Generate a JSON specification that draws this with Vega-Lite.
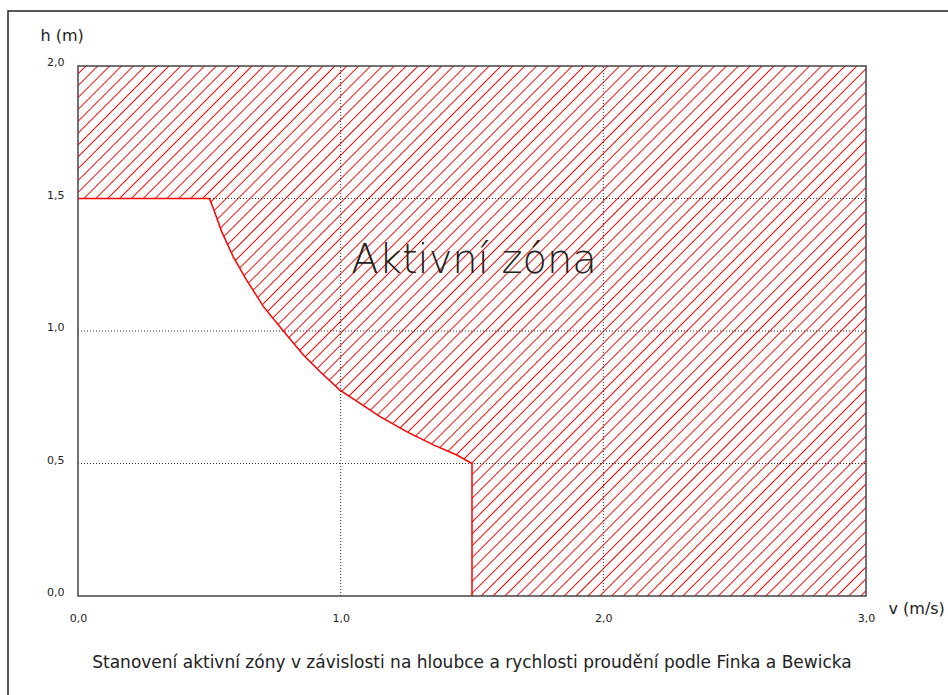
{
  "$schema": "https://vega.github.io/schema/vega-lite/v6.json",
  "width": 944,
  "height": 689,
  "autosize": "none",
  "padding": {"left": 8, "top": 11, "right": 0, "bottom": 0},
  "background": "#ffffff",
  "config": {
    "view": {"stroke": "#222222", "strokeWidth": 1.5},
    "font": "DejaVu Sans"
  },
  "title": {
    "text": "Stanovení aktivní zóny v závislosti na hloubce a rychlosti proudění podle Finka a Bewicka",
    "orient": "bottom", "anchor": "middle", "frame": "group",
    "offset": -45, "dx": -8,
    "font": "DejaVu Sans", "fontSize": 17, "fontWeight": "normal", "color": "#222222"
  },
  "datasets": {
    "boundary": [
      {"i": 0, "v": 0.0, "h": 1.5},
      {"i": 1, "v": 0.5, "h": 1.5},
      {"i": 2, "v": 0.515, "h": 1.463},
      {"i": 3, "v": 0.547, "h": 1.375},
      {"i": 4, "v": 0.591, "h": 1.28},
      {"i": 5, "v": 0.642, "h": 1.192},
      {"i": 6, "v": 0.706, "h": 1.092},
      {"i": 7, "v": 0.782, "h": 1.0},
      {"i": 8, "v": 0.858, "h": 0.909},
      {"i": 9, "v": 0.921, "h": 0.847},
      {"i": 10, "v": 0.997, "h": 0.777},
      {"i": 11, "v": 1.074, "h": 0.727},
      {"i": 12, "v": 1.15, "h": 0.677},
      {"i": 13, "v": 1.251, "h": 0.62},
      {"i": 14, "v": 1.353, "h": 0.57},
      {"i": 15, "v": 1.442, "h": 0.532},
      {"i": 16, "v": 1.5, "h": 0.5},
      {"i": 17, "v": 1.5, "h": 0.0},
      {"i": 18, "v": 3.0, "h": 0.0}
    ]
  },
  "layer": [
    {
      "data": {"name": "boundary"},
      "mark": {
        "type": "area",
        "color": {
          "gradient": "linear", "x1": 0, "y1": 0, "x2": 1.1516, "y2": 0.7746,
          "stops": [
{"offset":0.005,"color":"#ffffff"},{"offset":0.006,"color":"#ff0000"},{"offset":0.007,"color":"#ffffff"},
{"offset":0.014,"color":"#ffffff"},{"offset":0.015,"color":"#ff0000"},{"offset":0.016,"color":"#ffffff"},
{"offset":0.023,"color":"#ffffff"},{"offset":0.024,"color":"#ff0000"},{"offset":0.025,"color":"#ffffff"},
{"offset":0.032,"color":"#ffffff"},{"offset":0.033,"color":"#ff0000"},{"offset":0.034,"color":"#ffffff"},
{"offset":0.041,"color":"#ffffff"},{"offset":0.042,"color":"#ff0000"},{"offset":0.043,"color":"#ffffff"},
{"offset":0.050,"color":"#ffffff"},{"offset":0.051,"color":"#ff0000"},{"offset":0.052,"color":"#ffffff"},
{"offset":0.059,"color":"#ffffff"},{"offset":0.060,"color":"#ff0000"},{"offset":0.061,"color":"#ffffff"},
{"offset":0.068,"color":"#ffffff"},{"offset":0.069,"color":"#ff0000"},{"offset":0.070,"color":"#ffffff"},
{"offset":0.077,"color":"#ffffff"},{"offset":0.078,"color":"#ff0000"},{"offset":0.079,"color":"#ffffff"},
{"offset":0.086,"color":"#ffffff"},{"offset":0.087,"color":"#ff0000"},{"offset":0.088,"color":"#ffffff"},
{"offset":0.095,"color":"#ffffff"},{"offset":0.096,"color":"#ff0000"},{"offset":0.097,"color":"#ffffff"},
{"offset":0.104,"color":"#ffffff"},{"offset":0.105,"color":"#ff0000"},{"offset":0.106,"color":"#ffffff"},
{"offset":0.113,"color":"#ffffff"},{"offset":0.114,"color":"#ff0000"},{"offset":0.115,"color":"#ffffff"},
{"offset":0.122,"color":"#ffffff"},{"offset":0.123,"color":"#ff0000"},{"offset":0.124,"color":"#ffffff"},
{"offset":0.131,"color":"#ffffff"},{"offset":0.132,"color":"#ff0000"},{"offset":0.133,"color":"#ffffff"},
{"offset":0.140,"color":"#ffffff"},{"offset":0.141,"color":"#ff0000"},{"offset":0.142,"color":"#ffffff"},
{"offset":0.149,"color":"#ffffff"},{"offset":0.150,"color":"#ff0000"},{"offset":0.151,"color":"#ffffff"},
{"offset":0.158,"color":"#ffffff"},{"offset":0.159,"color":"#ff0000"},{"offset":0.160,"color":"#ffffff"},
{"offset":0.167,"color":"#ffffff"},{"offset":0.168,"color":"#ff0000"},{"offset":0.169,"color":"#ffffff"},
{"offset":0.176,"color":"#ffffff"},{"offset":0.177,"color":"#ff0000"},{"offset":0.178,"color":"#ffffff"},
{"offset":0.185,"color":"#ffffff"},{"offset":0.186,"color":"#ff0000"},{"offset":0.187,"color":"#ffffff"},
{"offset":0.194,"color":"#ffffff"},{"offset":0.195,"color":"#ff0000"},{"offset":0.196,"color":"#ffffff"},
{"offset":0.203,"color":"#ffffff"},{"offset":0.204,"color":"#ff0000"},{"offset":0.205,"color":"#ffffff"},
{"offset":0.212,"color":"#ffffff"},{"offset":0.213,"color":"#ff0000"},{"offset":0.214,"color":"#ffffff"},
{"offset":0.221,"color":"#ffffff"},{"offset":0.222,"color":"#ff0000"},{"offset":0.223,"color":"#ffffff"},
{"offset":0.230,"color":"#ffffff"},{"offset":0.231,"color":"#ff0000"},{"offset":0.232,"color":"#ffffff"},
{"offset":0.239,"color":"#ffffff"},{"offset":0.240,"color":"#ff0000"},{"offset":0.241,"color":"#ffffff"},
{"offset":0.248,"color":"#ffffff"},{"offset":0.249,"color":"#ff0000"},{"offset":0.250,"color":"#ffffff"},
{"offset":0.257,"color":"#ffffff"},{"offset":0.258,"color":"#ff0000"},{"offset":0.259,"color":"#ffffff"},
{"offset":0.266,"color":"#ffffff"},{"offset":0.267,"color":"#ff0000"},{"offset":0.268,"color":"#ffffff"},
{"offset":0.275,"color":"#ffffff"},{"offset":0.276,"color":"#ff0000"},{"offset":0.277,"color":"#ffffff"},
{"offset":0.284,"color":"#ffffff"},{"offset":0.285,"color":"#ff0000"},{"offset":0.286,"color":"#ffffff"},
{"offset":0.293,"color":"#ffffff"},{"offset":0.294,"color":"#ff0000"},{"offset":0.295,"color":"#ffffff"},
{"offset":0.302,"color":"#ffffff"},{"offset":0.303,"color":"#ff0000"},{"offset":0.304,"color":"#ffffff"},
{"offset":0.311,"color":"#ffffff"},{"offset":0.312,"color":"#ff0000"},{"offset":0.313,"color":"#ffffff"},
{"offset":0.320,"color":"#ffffff"},{"offset":0.321,"color":"#ff0000"},{"offset":0.322,"color":"#ffffff"},
{"offset":0.329,"color":"#ffffff"},{"offset":0.330,"color":"#ff0000"},{"offset":0.331,"color":"#ffffff"},
{"offset":0.338,"color":"#ffffff"},{"offset":0.339,"color":"#ff0000"},{"offset":0.340,"color":"#ffffff"},
{"offset":0.347,"color":"#ffffff"},{"offset":0.348,"color":"#ff0000"},{"offset":0.349,"color":"#ffffff"},
{"offset":0.356,"color":"#ffffff"},{"offset":0.357,"color":"#ff0000"},{"offset":0.358,"color":"#ffffff"},
{"offset":0.365,"color":"#ffffff"},{"offset":0.366,"color":"#ff0000"},{"offset":0.367,"color":"#ffffff"},
{"offset":0.374,"color":"#ffffff"},{"offset":0.375,"color":"#ff0000"},{"offset":0.376,"color":"#ffffff"},
{"offset":0.383,"color":"#ffffff"},{"offset":0.384,"color":"#ff0000"},{"offset":0.385,"color":"#ffffff"},
{"offset":0.392,"color":"#ffffff"},{"offset":0.393,"color":"#ff0000"},{"offset":0.394,"color":"#ffffff"},
{"offset":0.401,"color":"#ffffff"},{"offset":0.402,"color":"#ff0000"},{"offset":0.403,"color":"#ffffff"},
{"offset":0.410,"color":"#ffffff"},{"offset":0.411,"color":"#ff0000"},{"offset":0.412,"color":"#ffffff"},
{"offset":0.419,"color":"#ffffff"},{"offset":0.420,"color":"#ff0000"},{"offset":0.421,"color":"#ffffff"},
{"offset":0.428,"color":"#ffffff"},{"offset":0.429,"color":"#ff0000"},{"offset":0.430,"color":"#ffffff"},
{"offset":0.437,"color":"#ffffff"},{"offset":0.438,"color":"#ff0000"},{"offset":0.439,"color":"#ffffff"},
{"offset":0.446,"color":"#ffffff"},{"offset":0.447,"color":"#ff0000"},{"offset":0.448,"color":"#ffffff"},
{"offset":0.455,"color":"#ffffff"},{"offset":0.456,"color":"#ff0000"},{"offset":0.457,"color":"#ffffff"},
{"offset":0.464,"color":"#ffffff"},{"offset":0.465,"color":"#ff0000"},{"offset":0.466,"color":"#ffffff"},
{"offset":0.473,"color":"#ffffff"},{"offset":0.474,"color":"#ff0000"},{"offset":0.475,"color":"#ffffff"},
{"offset":0.482,"color":"#ffffff"},{"offset":0.483,"color":"#ff0000"},{"offset":0.484,"color":"#ffffff"},
{"offset":0.491,"color":"#ffffff"},{"offset":0.492,"color":"#ff0000"},{"offset":0.493,"color":"#ffffff"},
{"offset":0.500,"color":"#ffffff"},{"offset":0.501,"color":"#ff0000"},{"offset":0.502,"color":"#ffffff"},
{"offset":0.509,"color":"#ffffff"},{"offset":0.510,"color":"#ff0000"},{"offset":0.511,"color":"#ffffff"},
{"offset":0.518,"color":"#ffffff"},{"offset":0.519,"color":"#ff0000"},{"offset":0.520,"color":"#ffffff"},
{"offset":0.527,"color":"#ffffff"},{"offset":0.528,"color":"#ff0000"},{"offset":0.529,"color":"#ffffff"},
{"offset":0.536,"color":"#ffffff"},{"offset":0.537,"color":"#ff0000"},{"offset":0.538,"color":"#ffffff"},
{"offset":0.545,"color":"#ffffff"},{"offset":0.546,"color":"#ff0000"},{"offset":0.547,"color":"#ffffff"},
{"offset":0.554,"color":"#ffffff"},{"offset":0.555,"color":"#ff0000"},{"offset":0.556,"color":"#ffffff"},
{"offset":0.563,"color":"#ffffff"},{"offset":0.564,"color":"#ff0000"},{"offset":0.565,"color":"#ffffff"},
{"offset":0.572,"color":"#ffffff"},{"offset":0.573,"color":"#ff0000"},{"offset":0.574,"color":"#ffffff"},
{"offset":0.581,"color":"#ffffff"},{"offset":0.582,"color":"#ff0000"},{"offset":0.583,"color":"#ffffff"},
{"offset":0.590,"color":"#ffffff"},{"offset":0.591,"color":"#ff0000"},{"offset":0.592,"color":"#ffffff"},
{"offset":0.599,"color":"#ffffff"},{"offset":0.600,"color":"#ff0000"},{"offset":0.601,"color":"#ffffff"},
{"offset":0.608,"color":"#ffffff"},{"offset":0.609,"color":"#ff0000"},{"offset":0.610,"color":"#ffffff"},
{"offset":0.617,"color":"#ffffff"},{"offset":0.618,"color":"#ff0000"},{"offset":0.619,"color":"#ffffff"},
{"offset":0.626,"color":"#ffffff"},{"offset":0.627,"color":"#ff0000"},{"offset":0.628,"color":"#ffffff"},
{"offset":0.635,"color":"#ffffff"},{"offset":0.636,"color":"#ff0000"},{"offset":0.637,"color":"#ffffff"},
{"offset":0.644,"color":"#ffffff"},{"offset":0.645,"color":"#ff0000"},{"offset":0.646,"color":"#ffffff"},
{"offset":0.653,"color":"#ffffff"},{"offset":0.654,"color":"#ff0000"},{"offset":0.655,"color":"#ffffff"},
{"offset":0.662,"color":"#ffffff"},{"offset":0.663,"color":"#ff0000"},{"offset":0.664,"color":"#ffffff"},
{"offset":0.671,"color":"#ffffff"},{"offset":0.672,"color":"#ff0000"},{"offset":0.673,"color":"#ffffff"},
{"offset":0.680,"color":"#ffffff"},{"offset":0.681,"color":"#ff0000"},{"offset":0.682,"color":"#ffffff"},
{"offset":0.689,"color":"#ffffff"},{"offset":0.690,"color":"#ff0000"},{"offset":0.691,"color":"#ffffff"},
{"offset":0.698,"color":"#ffffff"},{"offset":0.699,"color":"#ff0000"},{"offset":0.700,"color":"#ffffff"},
{"offset":0.707,"color":"#ffffff"},{"offset":0.708,"color":"#ff0000"},{"offset":0.709,"color":"#ffffff"},
{"offset":0.716,"color":"#ffffff"},{"offset":0.717,"color":"#ff0000"},{"offset":0.718,"color":"#ffffff"},
{"offset":0.725,"color":"#ffffff"},{"offset":0.726,"color":"#ff0000"},{"offset":0.727,"color":"#ffffff"},
{"offset":0.734,"color":"#ffffff"},{"offset":0.735,"color":"#ff0000"},{"offset":0.736,"color":"#ffffff"},
{"offset":0.743,"color":"#ffffff"},{"offset":0.744,"color":"#ff0000"},{"offset":0.745,"color":"#ffffff"},
{"offset":0.752,"color":"#ffffff"},{"offset":0.753,"color":"#ff0000"},{"offset":0.754,"color":"#ffffff"},
{"offset":0.761,"color":"#ffffff"},{"offset":0.762,"color":"#ff0000"},{"offset":0.763,"color":"#ffffff"},
{"offset":0.770,"color":"#ffffff"},{"offset":0.771,"color":"#ff0000"},{"offset":0.772,"color":"#ffffff"},
{"offset":0.779,"color":"#ffffff"},{"offset":0.780,"color":"#ff0000"},{"offset":0.781,"color":"#ffffff"},
{"offset":0.788,"color":"#ffffff"},{"offset":0.789,"color":"#ff0000"},{"offset":0.790,"color":"#ffffff"},
{"offset":0.797,"color":"#ffffff"},{"offset":0.798,"color":"#ff0000"},{"offset":0.799,"color":"#ffffff"},
{"offset":0.806,"color":"#ffffff"},{"offset":0.807,"color":"#ff0000"},{"offset":0.808,"color":"#ffffff"},
{"offset":0.815,"color":"#ffffff"},{"offset":0.816,"color":"#ff0000"},{"offset":0.817,"color":"#ffffff"},
{"offset":0.824,"color":"#ffffff"},{"offset":0.825,"color":"#ff0000"},{"offset":0.826,"color":"#ffffff"},
{"offset":0.833,"color":"#ffffff"},{"offset":0.834,"color":"#ff0000"},{"offset":0.835,"color":"#ffffff"},
{"offset":0.842,"color":"#ffffff"},{"offset":0.843,"color":"#ff0000"},{"offset":0.844,"color":"#ffffff"},
{"offset":0.851,"color":"#ffffff"},{"offset":0.852,"color":"#ff0000"},{"offset":0.853,"color":"#ffffff"},
{"offset":0.860,"color":"#ffffff"},{"offset":0.861,"color":"#ff0000"},{"offset":0.862,"color":"#ffffff"},
{"offset":0.869,"color":"#ffffff"},{"offset":0.870,"color":"#ff0000"},{"offset":0.871,"color":"#ffffff"},
{"offset":0.878,"color":"#ffffff"},{"offset":0.879,"color":"#ff0000"},{"offset":0.880,"color":"#ffffff"},
{"offset":0.887,"color":"#ffffff"},{"offset":0.888,"color":"#ff0000"},{"offset":0.889,"color":"#ffffff"},
{"offset":0.896,"color":"#ffffff"},{"offset":0.897,"color":"#ff0000"},{"offset":0.898,"color":"#ffffff"},
{"offset":0.905,"color":"#ffffff"},{"offset":0.906,"color":"#ff0000"},{"offset":0.907,"color":"#ffffff"},
{"offset":0.914,"color":"#ffffff"},{"offset":0.915,"color":"#ff0000"},{"offset":0.916,"color":"#ffffff"},
{"offset":0.923,"color":"#ffffff"},{"offset":0.924,"color":"#ff0000"},{"offset":0.925,"color":"#ffffff"},
{"offset":0.932,"color":"#ffffff"},{"offset":0.933,"color":"#ff0000"},{"offset":0.934,"color":"#ffffff"},
{"offset":0.941,"color":"#ffffff"},{"offset":0.942,"color":"#ff0000"},{"offset":0.943,"color":"#ffffff"},
{"offset":0.950,"color":"#ffffff"},{"offset":0.951,"color":"#ff0000"},{"offset":0.952,"color":"#ffffff"},
{"offset":0.959,"color":"#ffffff"},{"offset":0.960,"color":"#ff0000"},{"offset":0.961,"color":"#ffffff"},
{"offset":0.968,"color":"#ffffff"},{"offset":0.969,"color":"#ff0000"},{"offset":0.970,"color":"#ffffff"},
{"offset":0.977,"color":"#ffffff"},{"offset":0.978,"color":"#ff0000"},{"offset":0.979,"color":"#ffffff"},
{"offset":0.986,"color":"#ffffff"},{"offset":0.987,"color":"#ff0000"},{"offset":0.988,"color":"#ffffff"},
{"offset":0.995,"color":"#ffffff"},{"offset":0.996,"color":"#ff0000"},{"offset":0.997,"color":"#ffffff"}
          ]
        }
      },
      "encoding": {
        "x": {
          "field": "v", "type": "quantitative",
          "scale": {"domain": [-0.2665, 3.3274], "nice": false, "zero": false},
          "axis": {
            "values": [0, 1, 2, 3], "offset": -104, "domain": false, "ticks": false, "grid": false,
            "labelExpr": "replace(format(datum.value, '.1f'), '.', ',')",
            "labelFlush": false, "labelPadding": 16, "labelFont": "DejaVu Sans", "labelFontSize": 11, "labelColor": "#222222",
            "title": "v (m/s)", "titleX": 880, "titleY": 12, "titleAlign": "left", "titleBaseline": "middle", "titleAngle": 0,
            "titleFont": "DejaVu Sans", "titleFontSize": 16, "titleFontWeight": "normal", "titleColor": "#222222"
          }
        },
        "y": {
          "field": "h", "type": "quantitative",
          "scale": {"domain": [-0.3925, 2.2075], "nice": false, "zero": false},
          "axis": {
            "values": [0, 0.5, 1, 1.5, 2], "offset": -70, "domain": false, "ticks": false, "grid": false,
            "labelExpr": "replace(format(datum.value, '.1f'), '.', ',')",
            "labelFlush": false, "labelPadding": 14, "labelBaseline": "alphabetic", "labelFont": "DejaVu Sans", "labelFontSize": 11, "labelColor": "#222222",
            "title": "h (m)", "titleX": -38, "titleY": 24, "titleAlign": "left", "titleBaseline": "middle", "titleAngle": 0,
            "titleFont": "DejaVu Sans", "titleFontSize": 16, "titleFontWeight": "normal", "titleColor": "#222222"
          }
        },
        "y2": {"datum": 2}
      }
    },
    {
      "data": {"values": [{"v": 1}, {"v": 2}]},
      "mark": {"type": "rule", "color": "#333333", "strokeWidth": 1, "strokeDash": [1, 2]},
      "encoding": {
        "x": {"field": "v", "type": "quantitative"},
        "y": {"datum": 0},
        "y2": {"datum": 2}
      }
    },
    {
      "data": {"values": [{"h": 0.5}, {"h": 1.0}, {"h": 1.5}]},
      "mark": {"type": "rule", "color": "#333333", "strokeWidth": 1, "strokeDash": [1, 2]},
      "encoding": {
        "y": {"field": "h", "type": "quantitative"},
        "x": {"datum": 0},
        "x2": {"datum": 3}
      }
    },
    {
      "data": {"name": "boundary"},
      "transform": [{"filter": "datum.v <= 1.5"}],
      "mark": {"type": "line", "color": "#ff0000", "strokeWidth": 1.5},
      "encoding": {
        "x": {"field": "v", "type": "quantitative"},
        "y": {"field": "h", "type": "quantitative"},
        "order": {"field": "i", "type": "quantitative"}
      }
    },
    {
      "data": {"values": [{}]},
      "mark": {"type": "rect", "fillOpacity": 0, "stroke": "#444444", "strokeWidth": 1.5},
      "encoding": {
        "x": {"datum": 0},
        "x2": {"datum": 3},
        "y": {"datum": 0},
        "y2": {"datum": 2}
      }
    },
    {
      "data": {"values": [{}]},
      "mark": {"type": "text", "text": "Aktivní zóna", "font": "DejaVu Sans", "fontWeight": 200, "fontSize": 40, "color": "#222222", "align": "center", "baseline": "middle"},
      "encoding": {
        "x": {"datum": 1.508},
        "y": {"datum": 1.265}
      }
    }
  ]
}
